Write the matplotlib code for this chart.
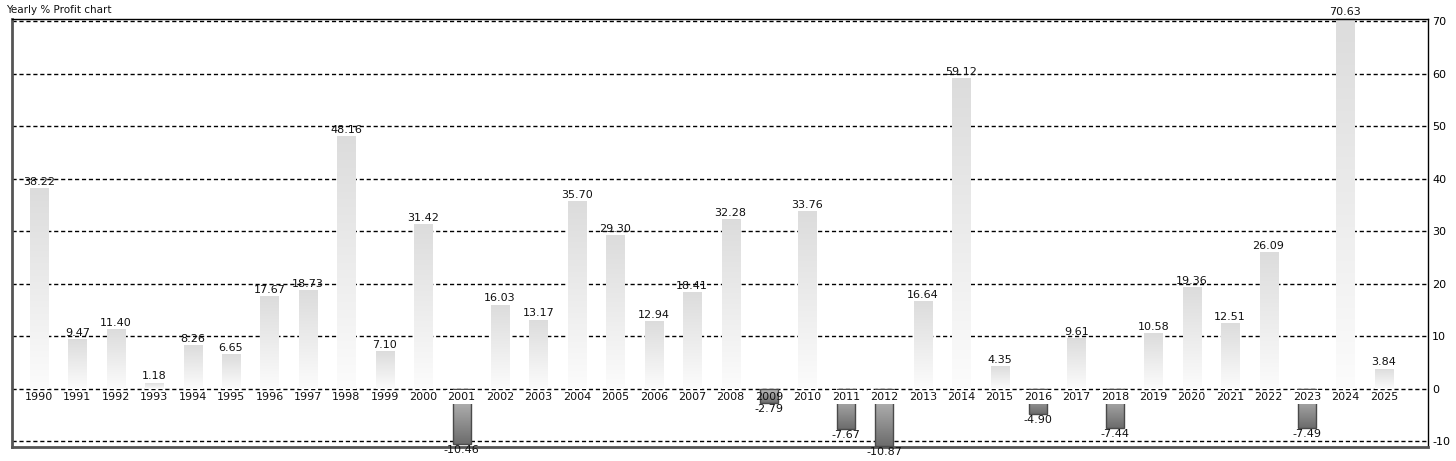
import numpy as np
import matplotlib.pyplot as plt
from matplotlib.colors import LinearSegmentedColormap

years = list(range(1990, 2026))
profits = [38.22, 9.47, 11.40, 1.18, 8.26, 6.65, 17.67, 18.73, 48.16, 7.10,
           31.42, -10.46, 16.03, 13.17, 35.70, 29.30, 12.94, 18.41, 32.28, -2.79,
           33.76, -7.67, -10.87, 16.64, 59.12, 4.35, -4.90, 9.61, -7.44, 10.58,
           19.36, 12.51, 26.09, -7.49, 70.63, 3.84]
y_ticks = [-10, 0, 10, 20, 30, 40, 50, 60, 70]

plt.rcParams['font.family'] = ['DejaVu Sans']

fig = plt.figure(figsize=(14.56, 4.61), dpi=100)
ax = fig.add_axes([12 / 1456, 1 - 447 / 461, 1416 / 1456, 428 / 461])

x = np.arange(len(years))
width = 0.47
bars = ax.bar(x, profits, width=width, color='none', edgecolor='none', zorder=2)

pos_cmap = LinearSegmentedColormap.from_list('pos', ['#fcfcfc', '#dcdcdc'])
neg_cmap = LinearSegmentedColormap.from_list('neg', ['#6c6c6c', '#c4c4c4'])
grad = np.linspace(0, 1, 256).reshape(-1, 1)

for b, v in zip(bars, profits):
    x0, y0 = b.get_x(), b.get_y()
    w, h = b.get_width(), b.get_height()
    ylo, yhi = min(y0, y0 + h), max(y0, y0 + h)
    cmap = pos_cmap if v >= 0 else neg_cmap
    im = ax.imshow(grad, cmap=cmap, origin='lower', aspect='auto',
                   extent=[x0, x0 + w, ylo, yhi], zorder=2)
    im.set_clip_path(b)
    if v < 0:
        ax.bar(b.get_x() + w / 2, v, width=w, color='none', edgecolor='#4a4a4a',
               linewidth=1.0, zorder=3)

ax.set_xlim(-0.70, len(years) - 1 + 1.15)
ax.set_ylim(-11.1, 70.4)

for yt in y_ticks:
    ax.axhline(yt, color='black', linestyle=(0, (3, 2)), linewidth=1.0, zorder=1)

for xi, yr, v in zip(x, years, profits):
    # the year label hides the top of the deeper negative bars
    box = None
    if v < -3:
        box = dict(boxstyle='square,pad=0.15', facecolor='white', edgecolor='none')
    ax.text(xi, -0.6, str(yr), ha='center', va='top', fontsize=8, color='#111111',
            zorder=4, bbox=box)
    if v >= 0:
        ax.text(xi, v + 0.2, f'{v:.2f}', ha='center', va='bottom', fontsize=8,
                color='#111111', zorder=4)
    else:
        ax.text(xi, v - 0.2, f'{v:.2f}', ha='center', va='top', fontsize=8,
                color='#111111', zorder=4)

ax.yaxis.tick_right()
ax.set_yticks(y_ticks)
ax.set_yticklabels([str(t) for t in y_ticks], fontsize=8)
ax.tick_params(axis='y', length=0, pad=3)
ax.set_xticks([])

for side in ['top', 'right']:
    ax.spines[side].set_color('black')
    ax.spines[side].set_linewidth(1.0)
ax.spines['left'].set_color('#555555')
ax.spines['left'].set_linewidth(2.0)
ax.spines['bottom'].set_color('#555555')
ax.spines['bottom'].set_linewidth(2.0)

fig.text(6 / 1456, 1 - 10 / 461, 'Yearly % Profit chart', ha='left', va='center',
         fontsize=7.5, color='#111111')

fig.savefig('out.png', dpi=100)
